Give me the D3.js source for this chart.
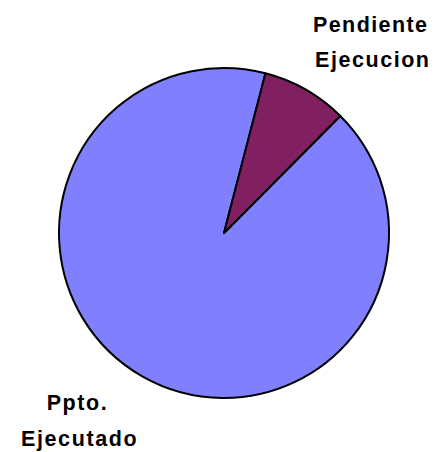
<!DOCTYPE html>
<html><head><meta charset="utf-8">
<script src="https://cdn.jsdelivr.net/npm/d3@7"></script>
<style>body{margin:0;background:#fff}</style>
</head><body>
<svg id="c" width="437" height="452"></svg>
<script>
const categories = ["Ppto. Ejecutado", "Pendiente Ejecucion"];
const values = [91.6, 8.4];
const colors = ["#8080FF", "#802060"];
const labelLines = [["Ppto.", "Ejecutado"], ["Pendiente", "Ejecucion"]];

const svg = d3.select("#c");
const cx = 224, cy = 233, r = 165;
const start = 44.8 * Math.PI / 180;
const pie = d3.pie().sort(null).startAngle(start).endAngle(start + 2 * Math.PI);
const arcs = pie(values);
const arc = d3.arc().innerRadius(0).outerRadius(r);
const g = svg.append("g").attr("transform", `translate(${cx},${cy})`);
g.selectAll("path").data(arcs).join("path")
  .attr("d", arc)
  .attr("fill", (d, i) => colors[i])
  .attr("stroke", "#000").attr("stroke-width", 2).attr("stroke-linejoin", "round");

const labelPos = [
  {x: [76.7, 78.8], y: [410, 445.5], w: [60, 115.5]},
  {x: [370, 372], y: [31.5, 67.3], w: [114, 114]}
];
labelLines.forEach((lines, i) => {
  lines.forEach((t, j) => {
    svg.append("text")
      .attr("x", labelPos[i].x[j]).attr("y", labelPos[i].y[j])
      .attr("text-anchor", "middle")
      .attr("font-family", "Liberation Sans, Arial, sans-serif")
      .attr("font-weight", "bold").attr("font-size", 21.5)
      .attr("textLength", labelPos[i].w[j]).attr("lengthAdjust", "spacing")
      .attr("fill", "#000")
      .text(t);
  });
});
</script>
</body></html>
